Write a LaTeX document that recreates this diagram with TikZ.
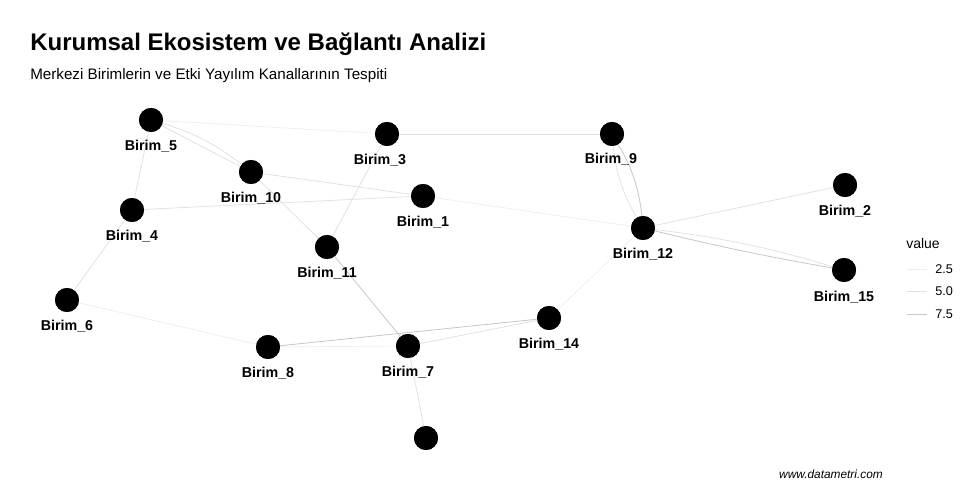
\documentclass[tikz,border=0pt]{standalone}
\usepackage{fontspec}
\setmainfont{Liberation Sans}
\begin{document}
\begin{tikzpicture}[x=0.75pt,y=-0.75pt,
  dot/.style={circle,fill=black,inner sep=0pt,minimum size=18pt},
  lbl/.style={font=\fontsize{10.7}{12}\selectfont\bfseries,inner sep=0pt},
  ea/.style={draw=black!7,line width=0.5pt},
  eb/.style={draw=black!12,line width=0.55pt},
  ec/.style={draw=black!22,line width=0.6pt},
  legtxt/.style={font=\fontsize{9.5}{11}\selectfont,inner sep=0pt,anchor=west}]
\useasboundingbox[fill=white] (0,0) rectangle (975,499);
% nodes
\node[dot] (n5) at (151,120) {};
\node[dot] (n3) at (387,134) {};
\node[dot] (n9) at (612,134) {};
\node[dot] (n10) at (251,172) {};
\node[dot] (n1) at (423,196) {};
\node[dot] (n4) at (132,210) {};
\node[dot] (n2) at (845,185) {};
\node[dot] (n12) at (643,228) {};
\node[dot] (n11) at (327,247) {};
\node[dot] (n15) at (844,270) {};
\node[dot] (n6) at (67,300) {};
\node[dot] (n14) at (549,318) {};
\node[dot] (n8) at (268,347) {};
\node[dot] (n7) at (408,346) {};
\node[dot] (n13) at (426,438) {};
% edges
\path (n5.center) edge[ea] (n3.center)
      (n3.center) edge[eb] (n9.center)
      (n5.center) edge[eb] (n10.center)
      (n5.center) edge[eb,bend left=12] (n10.center)
      (n5.center) edge[eb] (n4.center)
      (n10.center) edge[eb] (n1.center)
      (n4.center) edge[eb] (n1.center)
      (n10.center) edge[eb] (n11.center)
      (n3.center) edge[eb] (n11.center)
      (n1.center) edge[ea] (n12.center)
      (n9.center) edge[ec,bend left=14] (n12.center)
      (n9.center) edge[eb,bend right=14] (n12.center)
      (n12.center) edge[eb] (n2.center)
      (n12.center) edge[eb,bend left=5] (n15.center)
      (n12.center) edge[ec,bend right=2] (n15.center)
      (n12.center) edge[ea] (n14.center)
      (n4.center) edge[eb] (n6.center)
      (n6.center) edge[ea] (n8.center)
      (n8.center) edge[ec] (n14.center)
      (n8.center) edge[ea] (n7.center)
      (n7.center) edge[eb] (n14.center)
      (n11.center) edge[ec] (n7.center)
      (n7.center) edge[eb] (n13.center);
% redraw nodes over edges
\foreach \p in {(151,120),(387,134),(612,134),(251,172),(423,196),(132,210),(845,185),(643,228),(327,247),(844,270),(67,300),(549,318),(268,347),(408,346),(426,438)}
  \fill[black] \p circle (12);
% labels
\node[lbl] (l5) at (151,146) {Birim\_5};
\node[lbl] (l3) at (380,160) {Birim\_3};
\node[lbl] (l9) at (611,159) {Birim\_9};
\node[lbl] (l10) at (251,198) {Birim\_10};
\node[lbl] (l1) at (423,222) {Birim\_1};
\node[lbl] (l4) at (132,236) {Birim\_4};
\node[lbl] (l2) at (845,211) {Birim\_2};
\node[lbl] (l12) at (643,254) {Birim\_12};
\node[lbl] (l11) at (327,273) {Birim\_11};
\node[lbl] (l15) at (844,297) {Birim\_15};
\node[lbl] (l6) at (67,326) {Birim\_6};
\node[lbl] (l14) at (549,344) {Birim\_14};
\node[lbl] (l8) at (268,373) {Birim\_8};
\node[lbl] (l7) at (408,372) {Birim\_7};
% title
\node[anchor=base west,inner sep=0pt,font=\fontsize{18}{21}\selectfont\bfseries] (title) at (30,51) {Kurumsal Ekosistem ve Bağlantı Analizi};
\node[anchor=base west,inner sep=0pt,font=\fontsize{11.4}{13}\selectfont] (sub) at (30,80) {Merkezi Birimlerin ve Etki Yayılım Kanallarının Tespiti};
% legend
\node[anchor=base west,inner sep=0pt,font=\fontsize{10.5}{12}\selectfont] (legt) at (906,248) {value};
\coordinate (la1) at (907,269); \coordinate (lb1) at (927,269);
\coordinate (la2) at (907,291); \coordinate (lb2) at (927,291);
\coordinate (la3) at (907,314); \coordinate (lb3) at (927,314);
\draw[ea] (la1) -- (lb1);
\draw[eb] (la2) -- (lb2);
\draw[ec] (la3) -- (lb3);
\node[legtxt] (t1) at (935,269) {2.5};
\node[legtxt] (t2) at (935,291) {5.0};
\node[legtxt] (t3) at (935,314) {7.5};
% footer
\node[anchor=base east,inner sep=0pt,font=\fontsize{8.9}{10}\selectfont\itshape] (foot) at (883,478) {www.datametri.com};
\end{tikzpicture}
\end{document}
